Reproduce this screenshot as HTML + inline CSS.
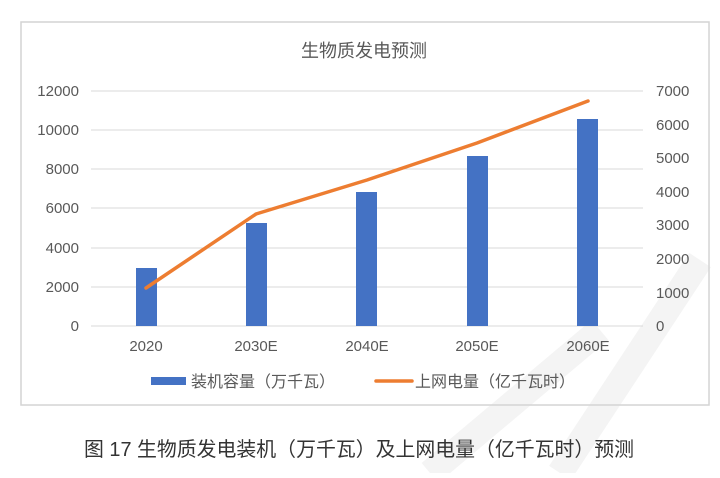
<!DOCTYPE html>
<html><head><meta charset="utf-8"><style>
body{margin:0;background:#fff;width:720px;height:473px;overflow:hidden;font-family:"Liberation Sans","Noto Sans CJK SC",sans-serif}
</style></head><body>
<svg width="720" height="473" xmlns="http://www.w3.org/2000/svg" font-family="Liberation Sans, Noto Sans CJK SC, sans-serif">
<rect width="720" height="473" fill="#fff"/>
<g stroke="#f4f4f4" stroke-width="26" fill="none">
<line x1="560" y1="473" x2="700" y2="260"/>
<line x1="430" y1="473" x2="600" y2="330"/>
</g>
<rect x="21" y="22" width="688" height="383" fill="none" stroke="#d4d4d4" stroke-width="1.5"/>
<text x="364" y="57" font-size="18" fill="#595959" text-anchor="middle">生物质发电预测</text>
<g stroke="#d9d9d9" stroke-width="1">
<line x1="91" y1="91" x2="643" y2="91"/>
<line x1="91" y1="130" x2="643" y2="130"/>
<line x1="91" y1="169" x2="643" y2="169"/>
<line x1="91" y1="208" x2="643" y2="208"/>
<line x1="91" y1="248" x2="643" y2="248"/>
<line x1="91" y1="287" x2="643" y2="287"/>
<line x1="91" y1="326" x2="643" y2="326"/>
</g>
<g font-size="15" fill="#595959" text-anchor="end">
<text x="79" y="96">12000</text><text x="79" y="135">10000</text><text x="79" y="174">8000</text><text x="79" y="213">6000</text><text x="79" y="253">4000</text><text x="79" y="292">2000</text><text x="79" y="331">0</text>
</g>
<g font-size="15" fill="#595959">
<text x="656" y="96">7000</text><text x="656" y="130">6000</text><text x="656" y="163">5000</text><text x="656" y="197">4000</text><text x="656" y="230">3000</text><text x="656" y="264">2000</text><text x="656" y="298">1000</text><text x="656" y="331">0</text>
</g>
<g fill="#4472c4">
<rect x="136" y="268" width="21" height="58"/>
<rect x="246" y="223" width="21" height="103"/>
<rect x="356" y="192" width="21" height="134"/>
<rect x="467" y="156" width="21" height="170"/>
<rect x="577" y="119" width="21" height="207"/>
</g>
<polyline points="146,288 256,214 367,180 477,143 588,101" fill="none" stroke="#ed7d31" stroke-width="3.5" stroke-linejoin="round" stroke-linecap="round"/>
<g font-size="15" fill="#595959" text-anchor="middle">
<text x="146" y="351">2020</text><text x="256" y="351">2030E</text><text x="367" y="351">2040E</text><text x="477" y="351">2050E</text><text x="588" y="351">2060E</text>
</g>
<rect x="151" y="377" width="35" height="8" fill="#4472c4"/>
<text x="191" y="387" font-size="16" fill="#595959">装机容量（万千瓦）</text>
<line x1="376" y1="381" x2="412" y2="381" stroke="#ed7d31" stroke-width="3.5" stroke-linecap="round"/>
<text x="415" y="387" font-size="16" fill="#595959">上网电量（亿千瓦时）</text>
<text x="84" y="456" font-size="20" fill="#333" textLength="550" lengthAdjust="spacingAndGlyphs">图 17 生物质发电装机（万千瓦）及上网电量（亿千瓦时）预测</text>
</svg>
</body></html>
